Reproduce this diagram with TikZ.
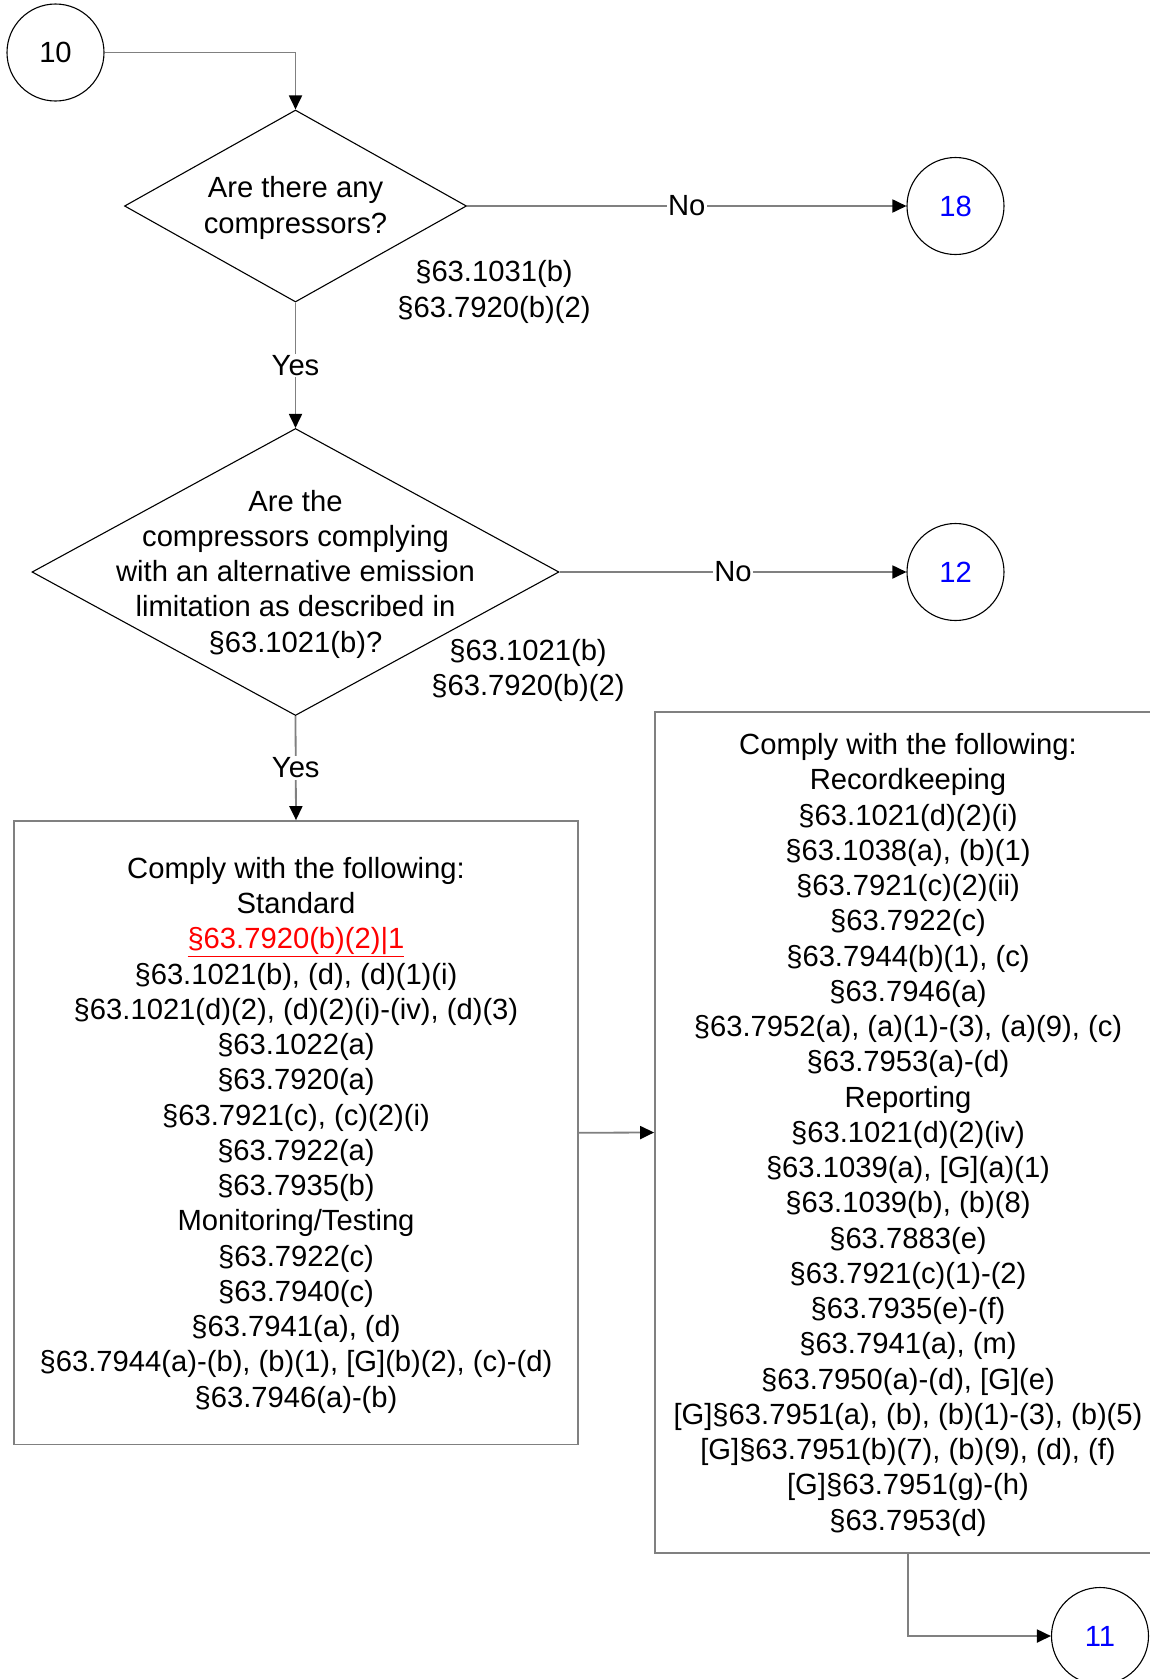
\documentclass[tikz,border=0pt]{standalone}
\usepackage{fontspec}
\setmainfont{Liberation Sans}
\usepackage{tikz}
\usetikzlibrary{arrows.meta,shapes.geometric}
\definecolor{linegray}{RGB}{128,128,128}
\newcommand{\flowfont}{\fontsize{29.2pt}{35.25pt}\selectfont}
\newcommand{\topstrut}{\rule{0pt}{26pt}}
\tikzset{
  conn/.style={draw=linegray, line width=1.8pt, -{Triangle[length=14pt,width=13pt,color=black]}},
  decision/.style={diamond, draw=black, line width=1.1pt, inner sep=0pt},
  conncircle/.style={circle, draw=black, line width=1.1pt, minimum size=97pt, inner sep=0pt},
  rulebox/.style={rectangle, draw=linegray, line width=1.8pt, align=center, inner sep=0pt},
  edgelabel/.style={fill=white, inner sep=1.5pt}
}

\begin{document}
\begin{tikzpicture}[x=1pt, y=-1pt, font=\flowfont]
                \clip (0,0) rectangle (1150,1679); % page

                % Off-page connectors
                \node[conncircle] (c10) at (55.5,52.5) {10};
                \node[conncircle, text=blue] (c18) at (955.5,206) {18};
                \node[conncircle, text=blue] (c12) at (955.5,572) {12};
                \node[conncircle, text=blue] (c11) at (1100,1636) {11};

                % First question
                \node[decision, minimum width=342pt, minimum height=192pt] (q1) at (295.5,206) {};
                \node[align=center, yshift=-2pt] (q1text) at (q1) {Are there any\\compressors?};
                \node[align=center] (q1refs) at (494,292) {§63.1031(b)\\§63.7920(b)(2)};

                % Second question
                \node[decision, minimum width=527pt, minimum height=287pt] (q2) at (295.5,572) {};
                \node[align=center, yshift=-2pt] (q2text) at (q2) {Are the\\compressors complying\\with an alternative emission\\limitation as described in\\§63.1021(b)?};
                \node[align=center] (q2refs) at (528,670.5) {§63.1021(b)\\§63.7920(b)(2)};

                % Requirement boxes
                \node[rulebox, minimum width=564pt, minimum height=623.5pt] (std) at (296,1132.75) {\topstrut Comply with the following:\\Standard\\\textcolor{red}{\underline{§63.7920(b)(2)|1}}\\§63.1021(b), (d), (d)(1)(i)\\§63.1021(d)(2), (d)(2)(i)-(iv), (d)(3)\\§63.1022(a)\\§63.7920(a)\\§63.7921(c), (c)(2)(i)\\§63.7922(a)\\§63.7935(b)\\Monitoring/Testing\\§63.7922(c)\\§63.7940(c)\\§63.7941(a), (d)\\§63.7944(a)-(b), (b)(1), [G](b)(2), (c)-(d)\\§63.7946(a)-(b)};
                \node[rulebox, minimum width=506pt, minimum height=841pt] (rec) at (908,1132.5) {\topstrut Comply with the following:\\Recordkeeping\\§63.1021(d)(2)(i)\\§63.1038(a), (b)(1)\\§63.7921(c)(2)(ii)\\§63.7922(c)\\§63.7944(b)(1), (c)\\§63.7946(a)\\§63.7952(a), (a)(1)-(3), (a)(9), (c)\\§63.7953(a)-(d)\\Reporting\\§63.1021(d)(2)(iv)\\§63.1039(a), [G](a)(1)\\§63.1039(b), (b)(8)\\§63.7883(e)\\§63.7921(c)(1)-(2)\\§63.7935(e)-(f)\\§63.7941(a), (m)\\§63.7950(a)-(d), [G](e)\\{[G]}§63.7951(a), (b), (b)(1)-(3), (b)(5)\\{[G]}§63.7951(b)(7), (b)(9), (d), (f)\\{[G]}§63.7951(g)-(h)\\§63.7953(d)};

                % Connectors
                \draw[conn] (c10.east) -| (q1.north);
                \draw[conn] (q1.east) -- node[edgelabel]{No} (c18.west);
                \draw[conn] (q1.south) -- node[edgelabel]{Yes} (q2.north);
                \draw[conn] (q2.east) -- node[edgelabel]{No} (c12.west);
                \draw[conn] (q2.south) -- node[edgelabel]{Yes} (std.north);
                \draw[conn] (std.east) -- (rec.west);
                \draw[conn] (rec.south) |- (c11.west);
            \end{tikzpicture}
\end{document}
